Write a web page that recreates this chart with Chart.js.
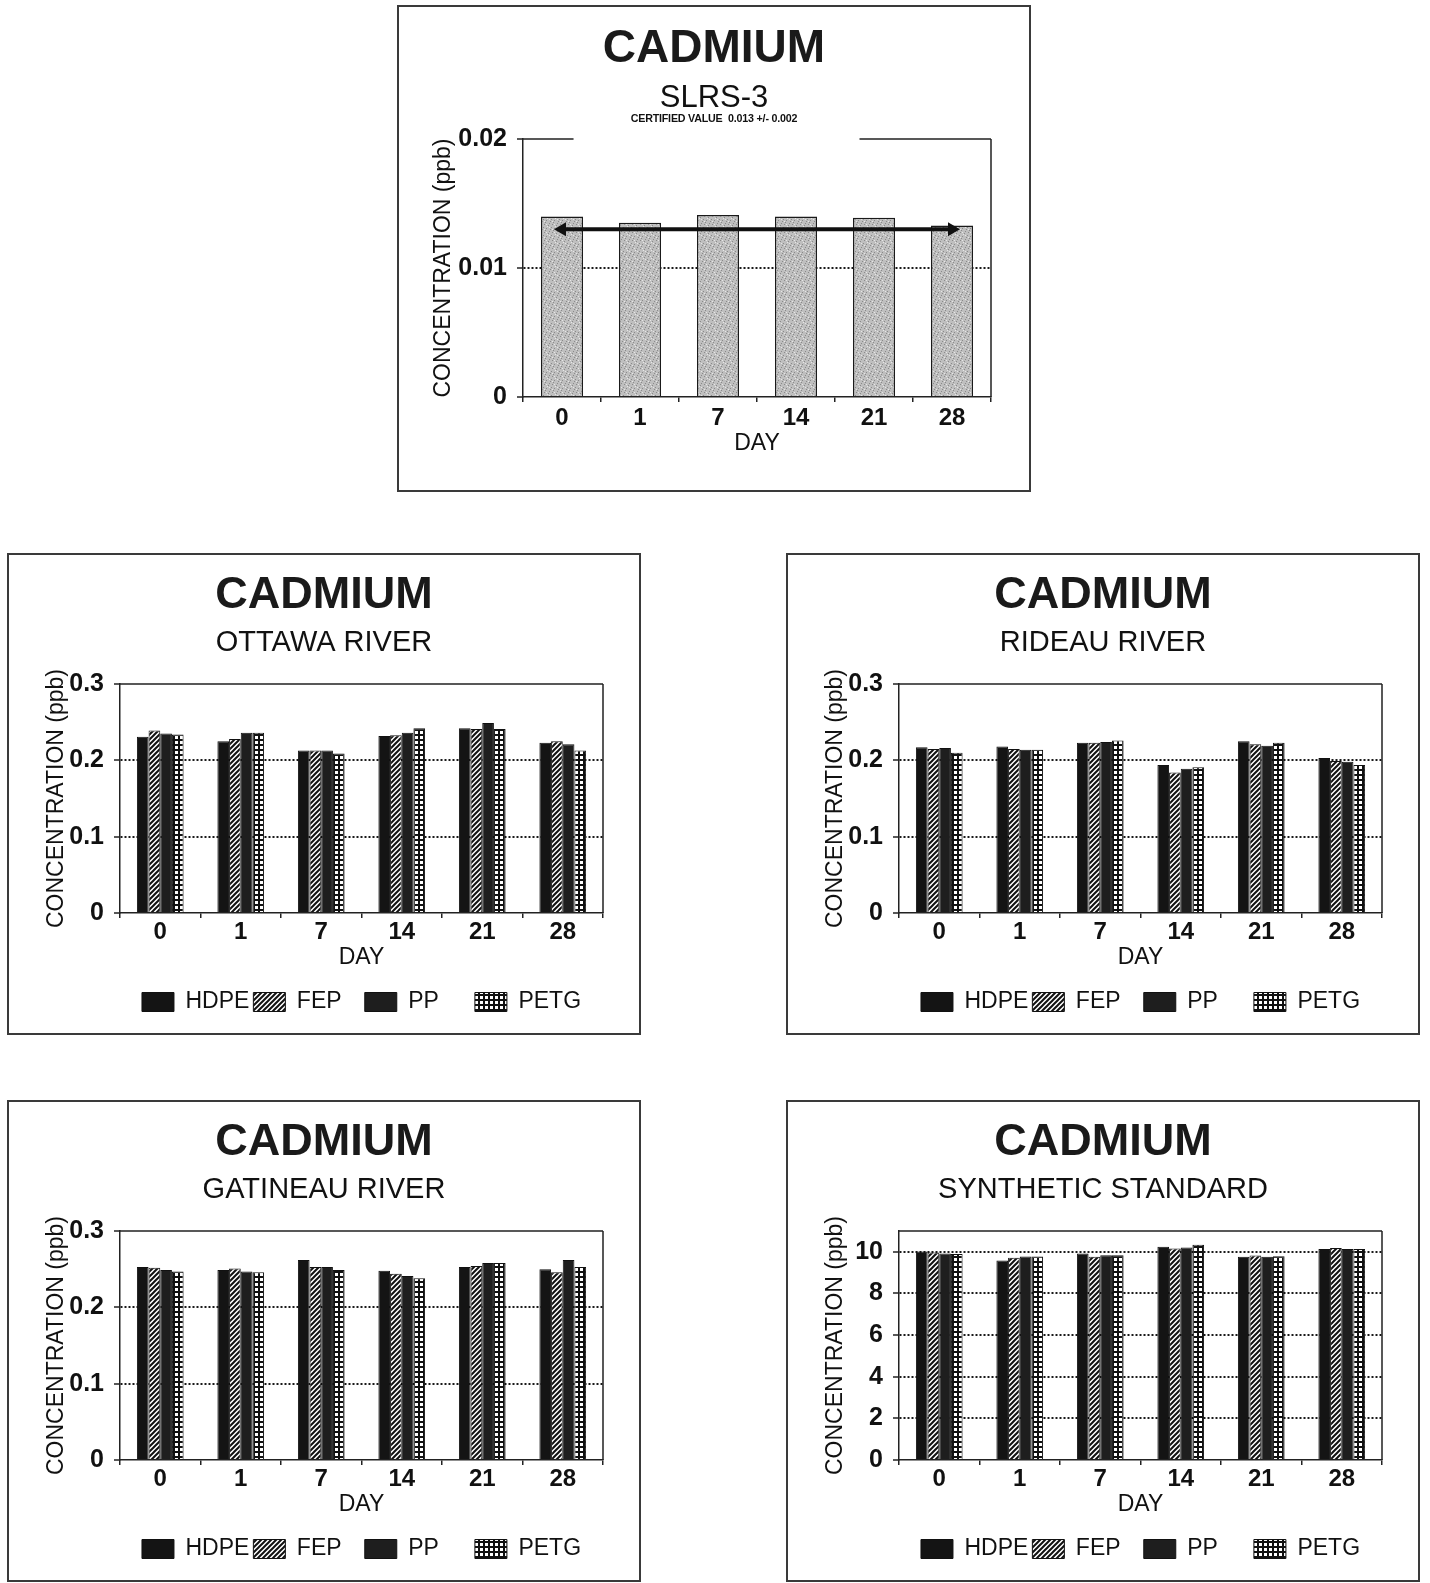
<!DOCTYPE html>
<html><head><meta charset="utf-8">
<script src="https://cdn.jsdelivr.net/npm/chart.js@4.4.0/dist/chart.umd.min.js"></script>
<style>
html,body{margin:0;padding:0;background:#fff;}
body{width:1430px;height:1583px;position:relative;overflow:hidden;font-family:'Liberation Sans',Arial,sans-serif;}
.panel{position:absolute;border:2px solid #3a3a3a;background:#fff;}
.panel canvas{display:block;}
#cert{position:absolute;left:0;width:630px;top:105px;line-height:12px;text-align:center;font-weight:bold;font-size:10.7px;color:#111;letter-spacing:-0.2px;}
</style></head>
<body>
<div class="panel" style="left:397px;top:5px;width:630px;height:483px"><canvas id="cTop" width="630" height="483"></canvas><div id="cert">CERTIFIED VALUE&nbsp; 0.013 +/- 0.002</div></div>
<div class="panel" style="left:7px;top:553px;width:630px;height:478px"><canvas id="cOttawa" width="630" height="478"></canvas></div>
<div class="panel" style="left:786px;top:553px;width:630px;height:478px"><canvas id="cRideau" width="630" height="478"></canvas></div>
<div class="panel" style="left:7px;top:1100px;width:630px;height:478px"><canvas id="cGatineau" width="630" height="478"></canvas></div>
<div class="panel" style="left:786px;top:1100px;width:630px;height:478px"><canvas id="cSynth" width="630" height="478"></canvas></div>
<script>
// ---------------- DATA ----------------
const days = ['0', '1', '7', '14', '21', '28'];
const seriesNames = ['HDPE', 'FEP', 'PP', 'PETG'];

// SLRS-3 reference material
const slrsValues = [0.0140, 0.0135, 0.0141, 0.0140, 0.0139, 0.0133];
const slrsCertified = [0.013, 0.013, 0.013, 0.013, 0.013, 0.013];

// Ottawa River
const ottawaHDPE = [0.231, 0.225, 0.213, 0.232, 0.242, 0.223];
const ottawaFEP  = [0.239, 0.228, 0.213, 0.233, 0.241, 0.225];
const ottawaPP   = [0.235, 0.236, 0.213, 0.236, 0.249, 0.221];
const ottawaPETG = [0.234, 0.236, 0.209, 0.242, 0.241, 0.213];

// Rideau River
const rideauHDPE = [0.217, 0.218, 0.223, 0.194, 0.225, 0.203];
const rideauFEP  = [0.215, 0.215, 0.223, 0.184, 0.221, 0.199];
const rideauPP   = [0.216, 0.214, 0.224, 0.189, 0.219, 0.198];
const rideauPETG = [0.210, 0.214, 0.226, 0.191, 0.223, 0.194];

// Gatineau River
const gatineauHDPE = [0.253, 0.249, 0.262, 0.248, 0.253, 0.250];
const gatineauFEP  = [0.252, 0.251, 0.253, 0.244, 0.254, 0.246];
const gatineauPP   = [0.249, 0.247, 0.253, 0.241, 0.258, 0.262];
const gatineauPETG = [0.247, 0.246, 0.249, 0.238, 0.258, 0.253];

// Synthetic standard
const synthHDPE = [10.02, 9.58, 9.92, 10.24, 9.76, 10.13];
const synthFEP  = [9.97, 9.71, 9.76, 10.16, 9.82, 10.18];
const synthPP   = [9.92, 9.77, 9.84, 10.21, 9.76, 10.13];
const synthPETG = [9.90, 9.77, 9.84, 10.34, 9.79, 10.13];

// ---------------- STYLE ----------------
const FONT = "'Liberation Sans', Arial, Helvetica, sans-serif";
Chart.defaults.font.family = FONT;
Chart.defaults.color = '#111';

function makePattern(w, h, draw) {
  const c = document.createElement('canvas');
  c.width = w; c.height = h;
  const x = c.getContext('2d');
  draw(x, w, h);
  return x.createPattern(c, 'repeat');
}
const hdpeFill = '#141414';
const fepFill = makePattern(5, 5, (x, w, h) => {
  x.fillStyle = '#fff'; x.fillRect(0, 0, w, h);
  x.strokeStyle = '#111'; x.lineWidth = 2;
  x.beginPath();
  x.moveTo(-1, 6); x.lineTo(6, -1);
  x.moveTo(-1, 1); x.lineTo(1, -1);
  x.moveTo(4, 6); x.lineTo(6, 4);
  x.stroke();
});
const ppFill = '#1e1e1e';
const petgFill = makePattern(5, 5, (x) => {
  x.fillStyle = '#111'; x.fillRect(0, 0, 5, 5);
  x.fillStyle = '#fff'; x.fillRect(1, 1, 3, 3);
});
const stippleFill = makePattern(8, 8, (x) => {
  x.fillStyle = '#bfbfbf'; x.fillRect(0, 0, 8, 8);
  x.fillStyle = '#8a8a8a';
  [[1,1],[5,2],[3,5],[7,6],[0,4],[6,0],[2,7]].forEach(p => x.fillRect(p[0], p[1], 1, 1));
  x.fillStyle = '#e6e6e6';
  [[3,1],[6,4],[1,6],[4,3]].forEach(p => x.fillRect(p[0], p[1], 1, 1));
});
const seriesFills = [hdpeFill, fepFill, ppFill, petgFill];
// trailing spaces give the legend entries an even pitch, as in the original
const legendTrail = {HDPE: '', FEP: '   ', PP: '     ', PETG: ''};

const framePlugin = {
  id: 'frame',
  afterDatasetsDraw(chart, args, opts) {
    const {left, right, top, bottom} = chart.chartArea;
    const ctx = chart.ctx;
    ctx.save();
    ctx.strokeStyle = '#222';
    ctx.lineWidth = 1.5;
    ctx.setLineDash([]);
    ctx.beginPath();
    const w = right - left;
    if (opts && opts.gap) {
      ctx.moveTo(left, top); ctx.lineTo(left + w * opts.gap[0], top);
      ctx.moveTo(left + w * opts.gap[1], top); ctx.lineTo(right, top);
    } else {
      ctx.moveTo(left, top); ctx.lineTo(right, top);
    }
    ctx.moveTo(right, top); ctx.lineTo(right, bottom);
    ctx.stroke();
    ctx.restore();
  }
};

function yGridColor(yMax, majorStep) {
  return (c) => {
    if (!c.tick) return 'rgba(0,0,0,0)';
    const v = c.tick.value;
    const isMajor = Math.abs(v / majorStep - Math.round(v / majorStep)) < 1e-6;
    if (v <= 1e-9 || v >= yMax - 1e-9 || !isMajor) return 'rgba(0,0,0,0)';
    return '#1a1a1a';
  };
}

function commonScales(o) {
  const yTicks = {stepSize: o.yStep, maxTicksLimit: 30, color: '#111', font: {size: 25, weight: 'bold', lineHeight: 1}, padding: 10};
  if (o.yLabel) yTicks.callback = o.yLabel;
  return {
    x: {
      grid: {display: true, drawOnChartArea: false, drawTicks: true, tickLength: 5, color: '#222', lineWidth: 1.5, offset: true},
      border: {display: true, color: '#222', width: 1.5},
      ticks: {color: '#111', font: {size: 24, weight: 'bold', lineHeight: 1}, padding: o.xTickPad, maxRotation: 0, autoSkip: false},
      title: {display: true, text: 'DAY', color: '#111', font: {size: 23, lineHeight: 1}, padding: {top: 0, bottom: o.dayPad}},
      afterFit: (s) => { s.height = o.xHeight; }
    },
    y: {
      min: 0, max: o.yMax,
      ticks: yTicks,
      grid: {color: yGridColor(o.yMax, o.majorStep || o.yStep), lineWidth: 2, drawTicks: true, tickLength: 6, tickColor: '#222', tickWidth: 1.5},
      border: {display: true, color: '#222', width: 1.5, dash: [2, 2]},
      title: {display: true, text: 'CONCENTRATION (ppb)', color: '#111', font: {size: 23, lineHeight: 1}, padding: {top: o.yTitlePad, bottom: 0}},
      afterFit: (s) => { s.width = o.yWidth; }
    }
  };
}

// ---------------- TOP CHART ----------------
const topScales = commonScales({xTickPad: 4, dayPad: 34.5, xHeight: 93, yMax: 0.02, yStep: 0.01, yTitlePad: -4.5, yWidth: 86,
  yLabel: (v) => (v === 0 ? '0' : String(Math.round(v * 1000) / 1000))});
new Chart(document.getElementById('cTop'), {
  type: 'bar',
  data: {
    labels: days,
    datasets: [
      {
        type: 'line', label: 'Certified value', data: slrsCertified, order: 0,
        borderColor: '#111', borderWidth: 4, backgroundColor: '#111',
        pointStyle: 'triangle', pointRadius: [4, 0, 0, 0, 0, 4], pointRotation: [-90, 0, 0, 0, 0, 90],
        pointBackgroundColor: '#111', pointBorderColor: '#111', fill: false, tension: 0
      },
      {
        type: 'bar', label: 'SLRS-3', data: slrsValues, order: 1,
        backgroundColor: stippleFill, borderColor: '#1a1a1a', borderWidth: 1.5,
        categoryPercentage: 0.54, barPercentage: 1.0
      }
    ]
  },
  options: {
    responsive: false, animation: false,
    layout: {padding: {top: 0, left: 38, right: 38, bottom: 0}},
    plugins: {
      title: {display: true, text: 'CADMIUM', color: '#1a1a1a', font: {size: 46, weight: 'bold', lineHeight: 1}, padding: {top: 19, bottom: 0}},
      subtitle: {display: true, text: 'SLRS-3', color: '#111', font: {size: 31, lineHeight: 1}, padding: {top: 11, bottom: 25}},
      legend: {display: false},
      tooltip: {enabled: false},
      frame: {gap: [0.108, 0.719]}
    },
    scales: topScales
  },
  plugins: [framePlugin]
});

// ---------------- LOWER CHARTS ----------------
function lowerChart(id, subtitle, seriesData, o) {
  const scales = commonScales(Object.assign({xTickPad: 2, dayPad: 17, xHeight: 73.5, yTitlePad: 0.5, yWidth: 75}, o));
  return new Chart(document.getElementById(id), {
    type: 'bar',
    data: {
      labels: days,
      datasets: seriesNames.map((name, i) => ({
        label: name, data: seriesData[i],
        backgroundColor: seriesFills[i], borderColor: '#111', borderWidth: 1,
        categoryPercentage: 0.58, barPercentage: 1.0
      }))
    },
    options: {
      responsive: false, animation: false,
      layout: {padding: {top: 0, left: 36, right: 36, bottom: 9.5}},
      plugins: {
        title: {display: true, text: 'CADMIUM', color: '#1a1a1a', font: {size: 45, weight: 'bold', lineHeight: 1}, padding: {top: 18, bottom: 0}},
        subtitle: {display: true, text: subtitle, color: '#111', font: {size: 29, lineHeight: 1}, padding: {top: 10, bottom: 27}},
        legend: {display: true, position: 'bottom', fullSize: false,
          labels: {boxWidth: 32, boxHeight: 19, padding: 4, color: '#111', font: {size: 23, lineHeight: 1},
            generateLabels: (chart) => Chart.defaults.plugins.legend.labels.generateLabels(chart)
              .map(l => Object.assign(l, {text: l.text + (legendTrail[l.text] || '')}))}},
        tooltip: {enabled: false},
        frame: {}
      },
      scales: scales
    },
    plugins: [framePlugin]
  });
}

lowerChart('cOttawa', 'OTTAWA RIVER', [ottawaHDPE, ottawaFEP, ottawaPP, ottawaPETG], {yMax: 0.3, yStep: 0.1});
lowerChart('cRideau', 'RIDEAU RIVER', [rideauHDPE, rideauFEP, rideauPP, rideauPETG], {yMax: 0.3, yStep: 0.1});
lowerChart('cGatineau', 'GATINEAU RIVER', [gatineauHDPE, gatineauFEP, gatineauPP, gatineauPETG], {yMax: 0.3, yStep: 0.1});
lowerChart('cSynth', 'SYNTHETIC STANDARD', [synthHDPE, synthFEP, synthPP, synthPETG],
  {yMax: 11, yStep: 1, majorStep: 2, yLabel: (v) => (v % 2 === 0 ? String(v) : '')});
</script>
</body></html>
